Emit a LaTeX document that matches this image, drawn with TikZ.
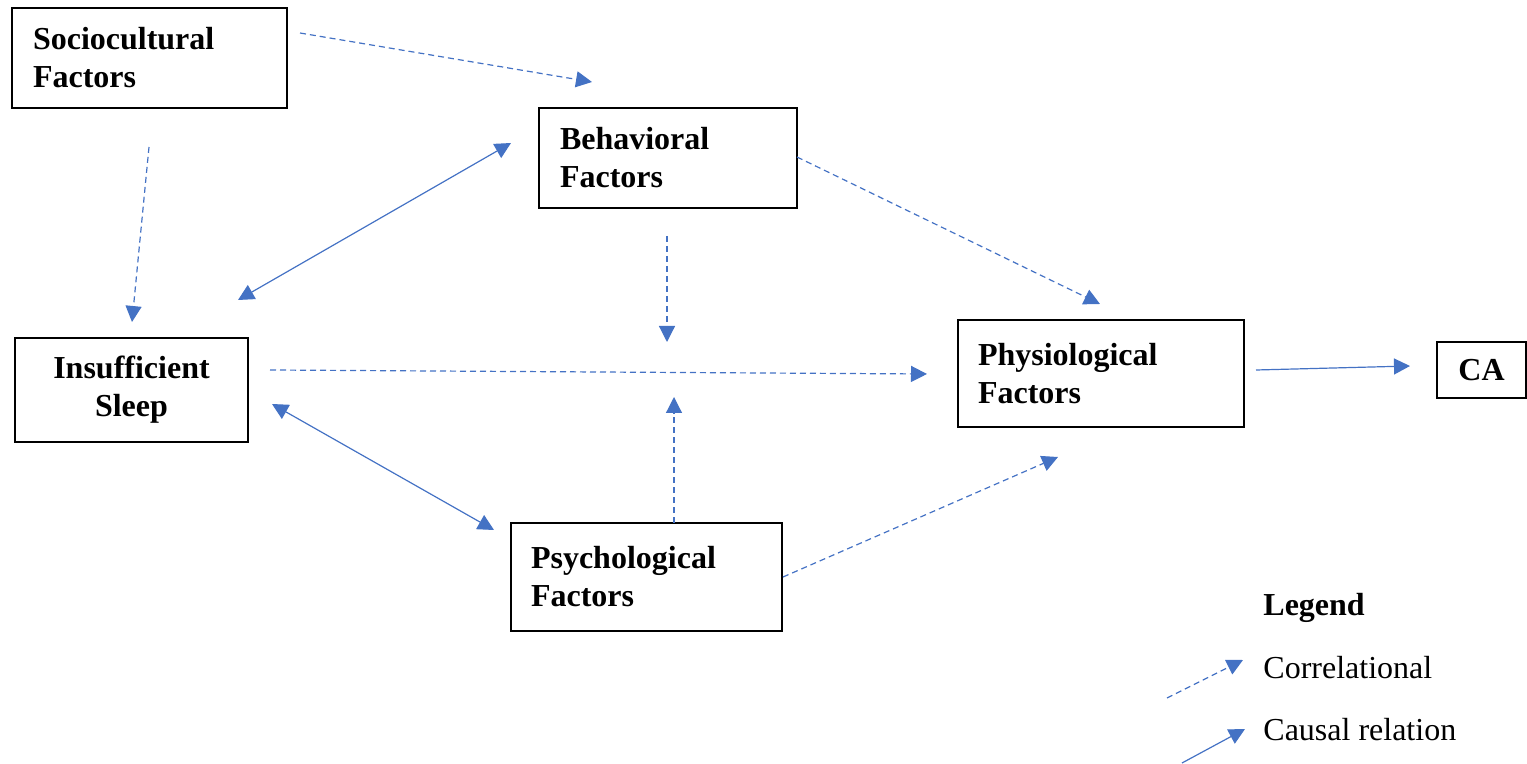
\documentclass[tikz,border=0pt]{standalone}
\usepackage{fontspec}
\setmainfont{Liberation Serif}
\usetikzlibrary{arrows.meta}
\definecolor{arrowblue}{HTML}{4472C4}
\tikzset{
  box/.style={draw, line width=0.6pt, font=\bfseries\fontsize{16}{19}\selectfont, inner ysep=0pt},
  leftbox/.style={box, align=left},
  tip/.style={-{Triangle[length=8pt,width=8pt]}},
  bothtip/.style={{Triangle[length=8pt,width=8pt]}-{Triangle[length=8pt,width=8pt]}},
  corr/.style={arrowblue, line width=0.6pt, dash pattern=on 3pt off 2pt, tip},
  caus/.style={arrowblue, line width=0.6pt, tip},
  causboth/.style={arrowblue, line width=0.6pt, bothtip},
  legtext/.style={anchor=west, inner sep=0pt, font=\fontsize{16}{19}\selectfont},
}
\begin{document}
\begin{tikzpicture}[x=0.5pt,y=-0.5pt]
\useasboundingbox (0,0) rectangle (1527,764);
% boxes
\node[leftbox, minimum width=137.5pt, minimum height=50pt, text width=116.5pt, inner xsep=10.5pt] (socio) at (149.5,58) {Sociocultural\\Factors};
\node[leftbox, minimum width=129pt, minimum height=50pt, text width=108pt, inner xsep=10.5pt] (behav) at (668,158) {Behavioral\\Factors};
\node[box, align=center, minimum width=116.5pt, minimum height=52pt] (sleep) at (131.5,390) {Insufficient\\Sleep};
\node[leftbox, minimum width=143pt, minimum height=53.5pt, text width=123pt, inner xsep=10pt] (physio) at (1101,373.5) {Physiological\\Factors};
\node[leftbox, minimum width=135.5pt, minimum height=54pt, text width=115.5pt, inner xsep=10pt] (psych) at (646.5,577) {Psychological\\Factors};
\node[box, align=center, minimum width=44.5pt, minimum height=28pt] (ca) at (1481.5,370) {CA};
% connector end points
\coordinate (a1) at (300,33);   \coordinate (b1) at (592,82);
\coordinate (a2) at (149,147);  \coordinate (b2) at (132,322);
\coordinate (a3) at (511,143);  \coordinate (b3) at (238,300);
\coordinate (a4) at (797,157);  \coordinate (b4) at (1100,304);
\coordinate (a5) at (667,236);  \coordinate (b5) at (667,342);
\coordinate (a6) at (270,370);  \coordinate (b6) at (927,374);
\coordinate (a7) at (674,523);  \coordinate (b7) at (674,397);
\coordinate (a8) at (272,404);  \coordinate (b8) at (494,530);
\coordinate (a9) at (783,577);  \coordinate (b9) at (1058,457);
\coordinate (a10) at (1256,370); \coordinate (b10) at (1410,366);
% connectors
\draw[corr] (a1) -- (b1);
\draw[corr] (a2) -- (b2);
\draw[causboth] (a3) -- (b3);
\draw[corr] (a4) -- (b4);
\draw[corr] (a5) -- (b5);
\draw[corr] (a6) -- (b6);
\draw[corr] (a7) -- (b7);
\draw[causboth] (a8) -- (b8);
\draw[corr] (a9) -- (b9);
\draw[caus] (a10) -- (b10);
% legend
\node[legtext, font=\bfseries\fontsize{16}{19}\selectfont] (legend) at (1263,608) {Legend};
\node[legtext] (lcorr) at (1263,668) {Correlational};
\node[legtext] (lcaus) at (1263,730) {Causal relation};
\coordinate (la1) at (1167,698); \coordinate (lb1) at (1243,660);
\coordinate (la2) at (1182,763); \coordinate (lb2) at (1245,729);
\draw[corr] (la1) -- (lb1);
\draw[caus] (la2) -- (lb2);
\end{tikzpicture}
\end{document}
